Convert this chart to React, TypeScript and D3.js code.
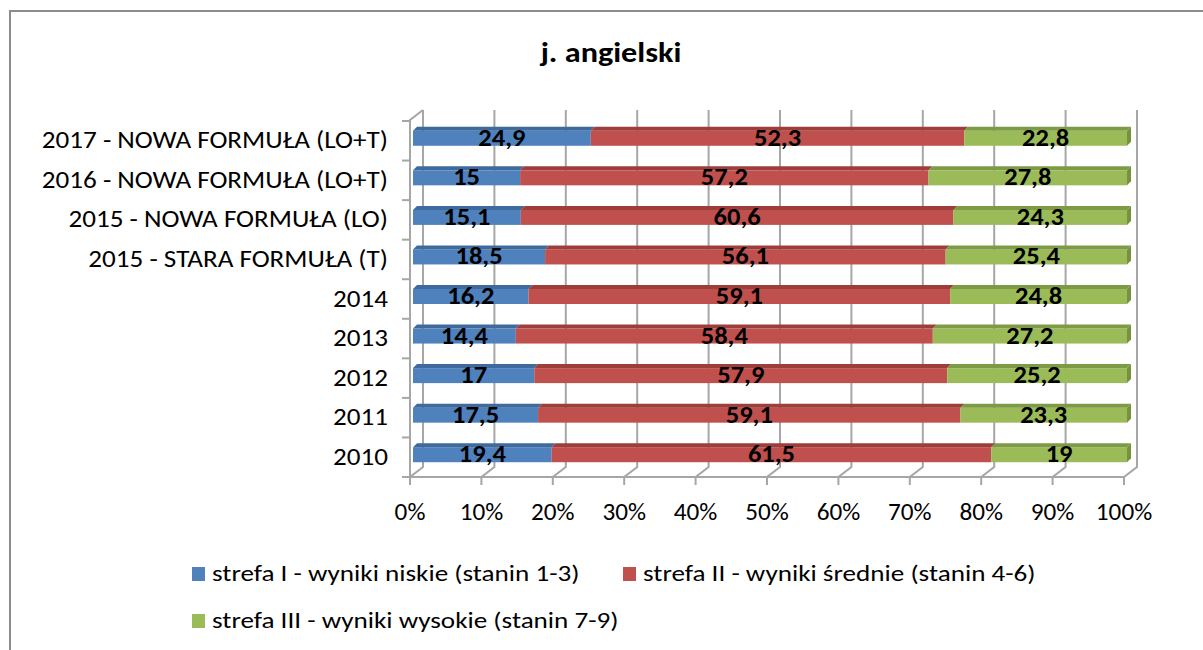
import React from "react";
import * as d3 from "d3";

// categories from top to bottom
const categories = [
  "2017 - NOWA FORMUŁA (LO+T)",
  "2016 - NOWA FORMUŁA (LO+T)",
  "2015 - NOWA FORMUŁA (LO)",
  "2015 - STARA FORMUŁA (T)",
  "2014",
  "2013",
  "2012",
  "2011",
  "2010",
];
const lowValues = [24.9, 15, 15.1, 18.5, 16.2, 14.4, 17, 17.5, 19.4];
const midValues = [52.3, 57.2, 60.6, 56.1, 59.1, 58.4, 57.9, 59.1, 61.5];
const highValues = [22.8, 27.8, 24.3, 25.4, 24.8, 27.2, 25.2, 23.3, 19];
const xTicks = [0, 10, 20, 30, 40, 50, 60, 70, 80, 90, 100];
const seriesNames = [
  "strefa I - wyniki niskie (stanin 1-3)",
  "strefa II - wyniki średnie (stanin 4-6)",
  "strefa III - wyniki wysokie (stanin 7-9)",
];

const colors = ["#4F81BD", "#C0504D", "#9BBB59"];
const topColors = ["#3E6A9E", "#9E3E3B", "#7D9A45"];
const sideColor = "#76923C";
const gridColor = "#A6A6A6";
const font = "Carlito, Calibri, Lato, sans-serif";

// text stretched horizontally to match the reference's wide rendering
const T = ({ x, y, sx = 1, anchor = "start", size = 20, bold = false, children }: any) => (
  <g transform={`translate(${x},${y}) scale(${sx},1)`}>
    <text
      x={0}
      y={0}
      textAnchor={anchor}
      fontFamily={font}
      fontWeight={bold ? "bold" : "normal"}
      fontSize={size}
      fill="#000"
    >
      {children}
    </text>
  </g>
);

const App = () => {
  const width = 1203;
  const height = 650;

  // 3D offsets: back wall relative to front plane
  const depthX = 13;
  const depthY = -10;
  const floorY = 477;
  const topY = 120;

  const x = d3.scaleLinear().domain([0, 100]).range([410, 1124]);
  const y = d3.scaleBand().domain(categories).range([topY + 1, floorY]);

  const values = [lowValues, midValues, highValues];
  const rows = categories.map((c, i) => {
    const total = lowValues[i] + midValues[i] + highValues[i];
    let cum = 0;
    return values.map((arr, s) => {
      const v = arr[i];
      const start = (cum / total) * 100;
      cum += v;
      const end = (cum / total) * 100;
      return { cat: c, s, v, start, end };
    });
  });

  const barOff = 3; // bar front face offset in x
  const barH = 15;
  const topD = 4;

  return (
    <div style={{ position: "absolute", left: 0, top: 0 }}>
      <svg width={width} height={height} style={{ display: "block" }}>
        <rect x={0} y={0} width={width} height={height} fill="#fff" />
        {/* chart frame (right and bottom edges fall outside the picture) */}
        <path d={`M10,${height + 5} L10,11 L${width + 5},11`} fill="none" stroke="#8C8C8C" strokeWidth={2} />

        <T x={611} y={62} anchor="middle" size={28} bold sx={1.15}>
          j. angielski
        </T>

        {/* left wall */}
        <path
          d={`M${x(0)},${floorY} L${x(0)},${topY} L${x(0) + depthX},${topY + depthY}`}
          fill="none"
          stroke={gridColor}
          strokeWidth={2}
        />
        {d3.range(categories.length + 1).map((i) => {
          const yy = topY + 1 + i * y.step();
          return <line key={i} x1={x(0) - 8} x2={x(0)} y1={yy} y2={yy} stroke={gridColor} strokeWidth={2} />;
        })}

        {/* gridlines on back wall + floor */}
        {xTicks.map((t) => (
          <path
            key={t}
            d={`M${x(t) + depthX},${topY + depthY} L${x(t) + depthX},${floorY + depthY} L${x(t)},${floorY} L${x(t)},${floorY + 8}`}
            fill="none"
            stroke={gridColor}
            strokeWidth={2}
          />
        ))}
        <line x1={x(0)} x2={x(100)} y1={floorY} y2={floorY} stroke={gridColor} strokeWidth={2} />

        {/* bars */}
        {rows.map((segs) => {
          const cy = (y(segs[0].cat) as number) + y.bandwidth() / 2;
          const y0 = cy - 10;
          return (
            <g key={segs[0].cat}>
              {segs.map((d) => {
                const x0 = x(d.start) + barOff;
                const x1 = x(d.end) + barOff;
                return (
                  <g key={d.s}>
                    <rect x={x0} y={y0} width={x1 - x0} height={barH} fill={colors[d.s]} />
                    <path
                      d={`M${x0},${y0} L${x0 + topD},${y0 - topD} L${x1 + topD},${y0 - topD} L${x1},${y0} Z`}
                      fill={topColors[d.s]}
                    />
                    {d.s === 2 && (
                      <path
                        d={`M${x1},${y0} L${x1 + topD},${y0 - topD} L${x1 + topD},${y0 + barH - topD} L${x1},${y0 + barH} Z`}
                        fill={sideColor}
                      />
                    )}
                  </g>
                );
              })}
              {segs.map((d) => (
                <T
                  key={"t" + d.s}
                  x={(x(d.start) + x(d.end)) / 2 + barOff}
                  y={y0 + 15}
                  anchor="middle"
                  size={25}
                  bold
                  sx={1.06}
                >
                  {String(d.v).replace(".", ",")}
                </T>
              ))}
            </g>
          );
        })}

        {/* category labels */}
        {categories.map((c) => (
          <T key={c} x={388} y={(y(c) as number) + y.bandwidth() / 2 + 7.5} anchor="end" size={24} sx={1.13}>
            {c}
          </T>
        ))}

        {/* x tick labels */}
        {xTicks.map((t) => (
          <T key={t} x={x(t)} y={520} anchor="middle" size={24} sx={1.05}>
            {t + "%"}
          </T>
        ))}

        {/* legend */}
        {seriesNames.map((n, i) => {
          const lx = i === 1 ? 623 : 192;
          const ly = i === 2 ? 628 : 581;
          return (
            <g key={n}>
              <rect x={lx} y={ly - 14} width={13} height={14} fill={colors[i]} />
              <T x={lx + 20} y={ly} size={23} sx={1.18}>
                {n}
              </T>
            </g>
          );
        })}
      </svg>
    </div>
  );
};

export default App;
